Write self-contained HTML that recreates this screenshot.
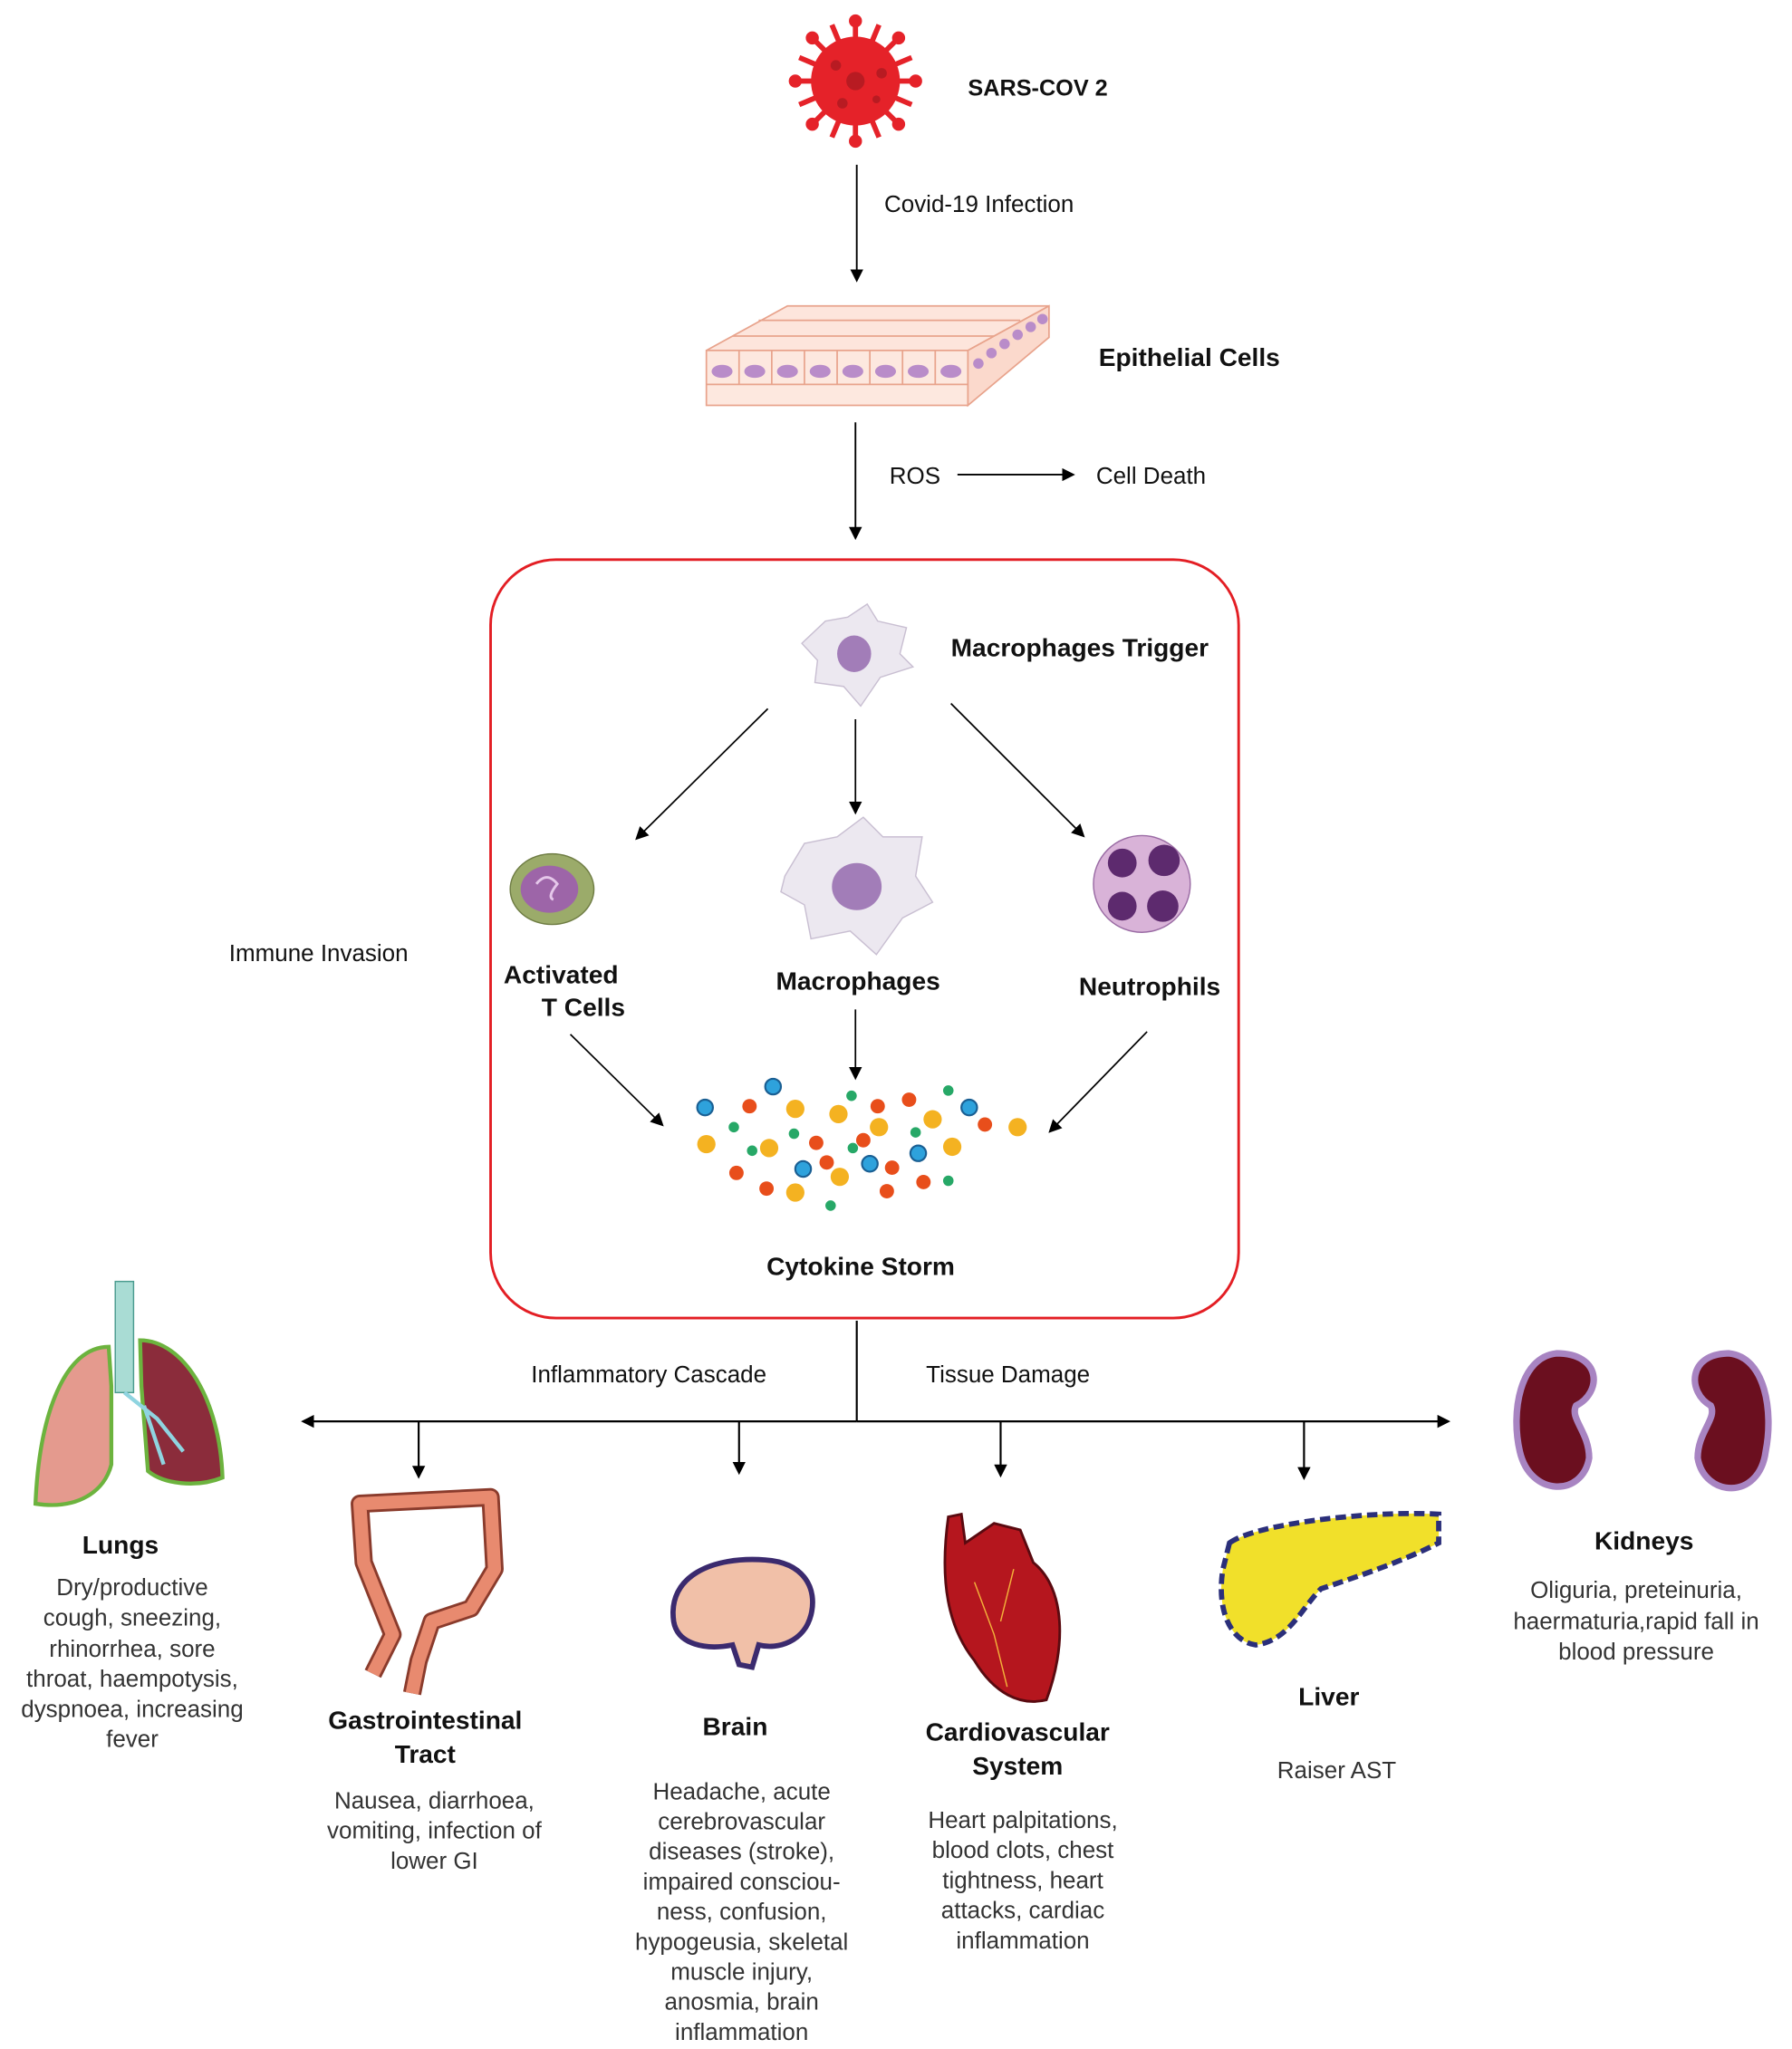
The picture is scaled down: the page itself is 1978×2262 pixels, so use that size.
<!DOCTYPE html>
<html><head><meta charset="utf-8"><style>
html,body{margin:0;padding:0;background:#fff;}
svg{display:block;}
text{font-family:"Liberation Sans",sans-serif;fill:#111;}
.b{font-weight:bold;font-size:19.5px;}
.n{font-size:18px;}
.d{font-size:18px;fill:#333;}
</style></head><body>
<svg width="1978" height="2262" viewBox="0 0 1370 1567" xmlns="http://www.w3.org/2000/svg">
<defs>
<marker id="a" markerWidth="10" markerHeight="10" refX="8" refY="5" orient="auto" markerUnits="userSpaceOnUse"><path d="M0,0 L10,5 L0,10 z" fill="#000"/></marker>
</defs>
<!-- virus -->
<g transform="translate(654,62)" fill="#e52229">
<g stroke="#e52229" stroke-width="4">
<line x1="0" y1="0" x2="0" y2="-46"/><line x1="0" y1="0" x2="0" y2="46"/>
<line x1="0" y1="0" x2="-46" y2="0"/><line x1="0" y1="0" x2="46" y2="0"/>
<line x1="0" y1="0" x2="-33" y2="-33"/><line x1="0" y1="0" x2="33" y2="33"/>
<line x1="0" y1="0" x2="-33" y2="33"/><line x1="0" y1="0" x2="33" y2="-33"/>
<line x1="0" y1="0" x2="-18" y2="-43"/><line x1="0" y1="0" x2="18" y2="43"/>
<line x1="0" y1="0" x2="18" y2="-43"/><line x1="0" y1="0" x2="-18" y2="43"/>
<line x1="0" y1="0" x2="-43" y2="-18"/><line x1="0" y1="0" x2="43" y2="18"/>
<line x1="0" y1="0" x2="-43" y2="18"/><line x1="0" y1="0" x2="43" y2="-18"/>
</g>
<circle r="34"/>
<circle cx="0" cy="-46" r="5"/><circle cx="0" cy="46" r="5"/><circle cx="-46" cy="0" r="5"/><circle cx="46" cy="0" r="5"/>
<circle cx="-33" cy="-33" r="5"/><circle cx="33" cy="33" r="5"/><circle cx="-33" cy="33" r="5"/><circle cx="33" cy="-33" r="5"/>
<circle r="7" fill="#b81b22"/><circle cx="-15" cy="-12" r="4" fill="#b81b22"/><circle cx="-10" cy="17" r="4" fill="#b81b22"/><circle cx="20" cy="-6" r="4" fill="#b81b22"/><circle cx="16" cy="14" r="3" fill="#b81b22"/>
</g>
<text x="740" y="73" class="b" style="font-size:17.5px">SARS-COV 2</text>
<line x1="655" y1="126" x2="655" y2="214" stroke="#000" stroke-width="1.3" marker-end="url(#a)"/>
<text x="676" y="162" class="n">Covid-19 Infection</text>
<!-- epithelium -->
<g stroke="#e8a38c" stroke-width="1.2">
<path d="M540,268 L602,234 L802,234 L740,268 z" fill="#fde5dc"/>
<rect x="540" y="268" width="200" height="42" fill="#fde8df"/>
<path d="M740,268 L802,234 L802,258 L740,310 z" fill="#fbd9cc"/>
<g fill="#fde8df">
<line x1="565" y1="268" x2="565" y2="294"/><line x1="590" y1="268" x2="590" y2="294"/><line x1="615" y1="268" x2="615" y2="294"/><line x1="640" y1="268" x2="640" y2="294"/><line x1="665" y1="268" x2="665" y2="294"/><line x1="690" y1="268" x2="690" y2="294"/><line x1="715" y1="268" x2="715" y2="294"/>
<line x1="540" y1="294" x2="740" y2="294"/>
<line x1="560" y1="257" x2="760" y2="257"/><line x1="580" y1="245" x2="780" y2="245"/>
</g>
</g>
<g fill="#b98cc9">
<ellipse cx="552" cy="284" rx="8" ry="5"/><ellipse cx="577" cy="284" rx="8" ry="5"/><ellipse cx="602" cy="284" rx="8" ry="5"/><ellipse cx="627" cy="284" rx="8" ry="5"/><ellipse cx="652" cy="284" rx="8" ry="5"/><ellipse cx="677" cy="284" rx="8" ry="5"/><ellipse cx="702" cy="284" rx="8" ry="5"/><ellipse cx="727" cy="284" rx="8" ry="5"/>
<circle cx="748" cy="278" r="4"/><circle cx="758" cy="270" r="4"/><circle cx="768" cy="263" r="4"/><circle cx="778" cy="256" r="4"/><circle cx="788" cy="250" r="4"/><circle cx="797" cy="244" r="4"/>
</g>
<text x="840" y="280" class="b">Epithelial Cells</text>
<line x1="654" y1="323" x2="654" y2="411" stroke="#000" stroke-width="1.3" marker-end="url(#a)"/>
<text x="680" y="370" class="n">ROS</text>
<line x1="732" y1="363" x2="820" y2="363" stroke="#000" stroke-width="1.3" marker-end="url(#a)"/>
<text x="838" y="370" class="n">Cell Death</text>
<!-- box -->
<rect x="375" y="428" width="572" height="580" rx="50" fill="none" stroke="#e31e24" stroke-width="2"/>
<!-- macrophage top -->
<g transform="translate(653,500)">
<path d="M-40,-8 L-22,-25 L-5,-28 L10,-38 L18,-25 L40,-20 L35,0 L45,10 L20,18 L5,40 L-8,25 L-30,22 L-28,5 z" fill="#ece8f0" stroke="#c9bfd2"/>
<ellipse cx="0" cy="0" rx="13" ry="14" fill="#a27db8"/>
</g>
<text x="727" y="502" class="b">Macrophages Trigger</text>
<g stroke="#000" stroke-width="1.2">
<line x1="587" y1="542" x2="487" y2="641" marker-end="url(#a)"/>
<line x1="654" y1="550" x2="654" y2="621" marker-end="url(#a)"/>
<line x1="727" y1="538" x2="828" y2="639" marker-end="url(#a)"/>
<line x1="436" y1="791" x2="506" y2="860" marker-end="url(#a)"/>
<line x1="654" y1="772" x2="654" y2="824" marker-end="url(#a)"/>
<line x1="877" y1="789" x2="803" y2="865" marker-end="url(#a)"/>
</g>
<!-- T cell -->
<ellipse cx="422" cy="680" rx="32" ry="27" fill="#9bab6a" stroke="#6f7d44"/>
<ellipse cx="420" cy="680" rx="22" ry="18" fill="#9d65a8"/>
<path d="M410,676 q8,-10 16,0 q-8,10 -3,12" stroke="#e5c7ea" fill="none" stroke-width="2"/>
<text x="385" y="752" class="b">Activated</text>
<text x="414" y="777" class="b">T Cells</text>
<!-- macrophage mid -->
<g transform="translate(655,680)">
<path d="M-55,-10 L-40,-35 L-15,-40 L5,-55 L20,-40 L50,-40 L45,-10 L58,10 L35,22 L15,50 L-5,32 L-35,38 L-40,12 L-58,2 z" fill="#ece8f0" stroke="#c9bfd2"/>
<ellipse cx="0" cy="-2" rx="19" ry="18" fill="#a27db8"/>
</g>
<text x="656" y="757" class="b" text-anchor="middle">Macrophages</text>
<!-- neutrophil -->
<circle cx="873" cy="676" r="37" fill="#d9b3d8" stroke="#9a6ba4"/>
<g fill="#5d2a6e"><circle cx="858" cy="660" r="11"/><circle cx="890" cy="658" r="12"/><circle cx="858" cy="693" r="11"/><circle cx="889" cy="693" r="12"/></g>
<text x="879" y="761" class="b" text-anchor="middle">Neutrophils</text>
<text x="175" y="735" class="n">Immune Invasion</text>
<!-- cytokines -->
<g>
<g fill="#f4b221"><circle cx="608" cy="848" r="7"/><circle cx="641" cy="852" r="7"/><circle cx="672" cy="862" r="7"/><circle cx="713" cy="856" r="7"/><circle cx="778" cy="862" r="7"/><circle cx="540" cy="875" r="7"/><circle cx="588" cy="878" r="7"/><circle cx="728" cy="877" r="7"/><circle cx="642" cy="900" r="7"/><circle cx="608" cy="912" r="7"/></g>
<g fill="#e84e1b"><circle cx="573" cy="846" r="5.5"/><circle cx="671" cy="846" r="5.5"/><circle cx="695" cy="841" r="5.5"/><circle cx="753" cy="860" r="5.5"/><circle cx="624" cy="874" r="5.5"/><circle cx="632" cy="889" r="5.5"/><circle cx="660" cy="872" r="5.5"/><circle cx="682" cy="893" r="5.5"/><circle cx="563" cy="897" r="5.5"/><circle cx="586" cy="909" r="5.5"/><circle cx="678" cy="911" r="5.5"/><circle cx="706" cy="904" r="5.5"/></g>
<g fill="#2ea2dc" stroke="#1a5f93" stroke-width="1.5"><circle cx="539" cy="847" r="6"/><circle cx="591" cy="831" r="6"/><circle cx="741" cy="847" r="6"/><circle cx="702" cy="882" r="6"/><circle cx="665" cy="890" r="6"/><circle cx="614" cy="894" r="6"/></g>
<g fill="#27a867"><circle cx="561" cy="862" r="4"/><circle cx="607" cy="867" r="4"/><circle cx="651" cy="838" r="4"/><circle cx="725" cy="834" r="4"/><circle cx="700" cy="866" r="4"/><circle cx="652" cy="878" r="4"/><circle cx="575" cy="880" r="4"/><circle cx="725" cy="903" r="4"/><circle cx="635" cy="922" r="4"/></g>
</g>
<text x="658" y="975" class="b" text-anchor="middle">Cytokine Storm</text>
<!-- bottom connectors -->
<g stroke="#000" stroke-width="1.5">
<line x1="655" y1="1010" x2="655" y2="1087"/>
<line x1="655" y1="1087" x2="232" y2="1087" marker-end="url(#a)"/>
<line x1="655" y1="1087" x2="1107" y2="1087" marker-end="url(#a)"/>
<line x1="320" y1="1087" x2="320" y2="1129" marker-end="url(#a)"/>
<line x1="565" y1="1087" x2="565" y2="1126" marker-end="url(#a)"/>
<line x1="765" y1="1087" x2="765" y2="1128" marker-end="url(#a)"/>
<line x1="997" y1="1087" x2="997" y2="1130" marker-end="url(#a)"/>
</g>
<text x="406" y="1057" class="n">Inflammatory Cascade</text>
<text x="708" y="1057" class="n">Tissue Damage</text>
<!-- lungs -->
<rect x="88" y="980" width="14" height="85" fill="#a9dcd4" stroke="#4a9b8f"/>
<path d="M83,1030 C50,1030 30,1080 27,1150 C60,1155 80,1140 85,1120 L85,1060 z" fill="#e49a8e" stroke="#6cb33e" stroke-width="3"/>
<path d="M107,1025 C140,1025 168,1070 170,1130 C150,1138 125,1135 113,1125 L108,1060 z" fill="#8b2c3b" stroke="#6cb33e" stroke-width="3"/>
<path d="M95,1065 L120,1085 L140,1110 M110,1075 L125,1120" stroke="#8fd4e0" stroke-width="3" fill="none"/>
<text x="92" y="1188" class="b" text-anchor="middle">Lungs</text>
<g text-anchor="middle"><text x="101" y="1220" class="d">Dry/productive</text><text x="101" y="1243" class="d">cough, sneezing,</text><text x="101" y="1267" class="d">rhinorrhea, sore</text><text x="101" y="1290" class="d">throat, haempotysis,</text><text x="101" y="1313" class="d">dyspnoea, increasing</text><text x="101" y="1336" class="d">fever</text></g>
<!-- colon -->
<path d="M285,1280 L300,1250 L290,1225 L278,1195 L275,1150 L375,1145 L378,1200 L360,1230 L330,1240 L320,1270 L315,1295" fill="none" stroke="#8a3b2c" stroke-width="14" stroke-linejoin="round"/>
<path d="M285,1280 L300,1250 L290,1225 L278,1195 L275,1150 L375,1145 L378,1200 L360,1230 L330,1240 L320,1270 L315,1295" fill="none" stroke="#e88a6f" stroke-width="10" stroke-linejoin="round"/>
<text x="325" y="1322" class="b" text-anchor="middle">Gastrointestinal</text>
<text x="325" y="1348" class="b" text-anchor="middle">Tract</text>
<g text-anchor="middle"><text x="332" y="1383" class="d">Nausea, diarrhoea,</text><text x="332" y="1406" class="d">vomiting, infection of</text><text x="332" y="1429" class="d">lower GI</text></g>
<!-- brain -->
<path d="M515,1240 C510,1205 545,1190 585,1193 C615,1195 625,1215 620,1235 C615,1255 595,1262 580,1258 L575,1275 L565,1273 L560,1258 C540,1262 518,1258 515,1240 z" fill="#f1c0a8" stroke="#3b2a6e" stroke-width="4"/>
<text x="562" y="1327" class="b" text-anchor="middle">Brain</text>
<g text-anchor="middle"><text x="567" y="1376" class="d">Headache, acute</text><text x="567" y="1399" class="d">cerebrovascular</text><text x="567" y="1422" class="d">diseases (stroke),</text><text x="567" y="1445" class="d">impaired consciou-</text><text x="567" y="1468" class="d">ness, confusion,</text><text x="567" y="1491" class="d">hypogeusia, skeletal</text><text x="567" y="1514" class="d">muscle injury,</text><text x="567" y="1537" class="d">anosmia, brain</text><text x="567" y="1560" class="d">inflammation</text></g>
<!-- heart -->
<path d="M725,1160 L735,1158 L738,1180 L760,1165 L780,1170 L790,1195 C815,1215 815,1260 800,1300 C780,1305 760,1295 745,1270 C725,1245 718,1210 725,1160 z" fill="#b5161e" stroke="#5a0a10" stroke-width="2"/>
<path d="M745,1210 L760,1250 L770,1290 M775,1200 L765,1240" stroke="#f3b23a" fill="none"/>
<text x="778" y="1331" class="b" text-anchor="middle">Cardiovascular</text>
<text x="778" y="1357" class="b" text-anchor="middle">System</text>
<g text-anchor="middle"><text x="782" y="1398" class="d">Heart palpitations,</text><text x="782" y="1421" class="d">blood clots, chest</text><text x="782" y="1444" class="d">tightness, heart</text><text x="782" y="1467" class="d">attacks, cardiac</text><text x="782" y="1490" class="d">inflammation</text></g>
<!-- liver -->
<path d="M940,1180 C960,1165 1050,1155 1100,1158 L1100,1180 C1070,1195 1040,1205 1010,1215 C995,1230 985,1255 960,1258 C940,1255 930,1230 935,1200 z" fill="#f1e02a" stroke="#2b2f7a" stroke-width="4" stroke-dasharray="8,4"/>
<text x="1016" y="1304" class="b" text-anchor="middle">Liver</text>
<text x="1022" y="1360" class="d" text-anchor="middle">Raiser AST</text>
<!-- kidneys -->
<path d="M1190,1035 C1225,1035 1225,1065 1205,1075 C1200,1085 1215,1095 1215,1115 C1210,1145 1170,1145 1162,1110 C1155,1080 1162,1038 1190,1035 z" fill="#6b0f1f" stroke="#a884c2" stroke-width="5"/>
<path d="M1322,1035 C1290,1035 1290,1065 1308,1075 C1313,1085 1298,1095 1298,1115 C1303,1145 1345,1148 1350,1110 C1356,1080 1350,1038 1322,1035 z" fill="#6b0f1f" stroke="#a884c2" stroke-width="5"/>
<text x="1257" y="1185" class="b" text-anchor="middle">Kidneys</text>
<g text-anchor="middle"><text x="1251" y="1222" class="d">Oliguria, preteinuria,</text><text x="1251" y="1246" class="d">haermaturia,rapid fall in</text><text x="1251" y="1269" class="d">blood pressure</text></g>
</svg>
</body></html>
